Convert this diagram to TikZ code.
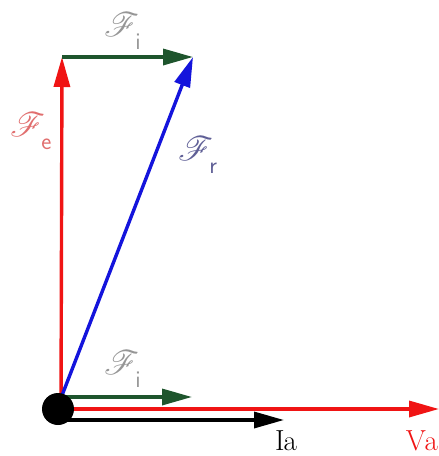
\documentclass[tikz,border=0pt]{standalone}
\usepackage{mathrsfs}
\usepackage{graphicx}
\usetikzlibrary{arrows.meta}
\definecolor{vred}{RGB}{240,20,20}
\definecolor{vgreen}{RGB}{30,85,45}
\definecolor{vblue}{RGB}{20,20,220}
\definecolor{lgray}{RGB}{150,150,150}
\definecolor{lred}{RGB}{225,110,110}
\definecolor{lblue}{RGB}{95,95,150}
\newcommand\flab[1]{\scalebox{3.4}{$\mathscr{F}$}\kern-4pt\raisebox{-13pt}{\fontsize{24}{24}\selectfont\sffamily #1}}
\tikzset{
  vec/.style={line width=3.4pt,-{Triangle[length=30pt,width=16pt]}},
  lbl/.style={inner sep=0pt,anchor=north west},
  tlbl/.style={inner sep=0pt,font=\fontsize{29}{31}\selectfont},
}
\begin{document}
\begin{tikzpicture}[x=1pt,y=-1pt]
\useasboundingbox (0,0) rectangle (439,456);
\fill[white] (0,0) rectangle (439,456);
\coordinate (O) at (61,398);
\coordinate (top) at (62,57);
\coordinate (tr) at (193,57);
\coordinate (gi) at (192,397);
\coordinate (va) at (439,409);
\coordinate (ia) at (284,420);
\draw[vec,vred] (61,409) -- (va);
\draw[vec,black] (61,420) -- (ia);
\draw[vec,vgreen] (61,397) -- (gi);
\draw[vec,vred] (61,409) -- (top);
\draw[vec,vgreen] (top) -- (tr);
\draw[vec,vblue] (O) -- (tr);
\fill[black] (58,409) circle (16);
\node[lbl,text=lgray] (fi1) at (104,12) {\flab{i}};
\node[lbl,text=lred] (fe) at (10,112) {\flab{e}};
\node[lbl,text=lblue] (fr) at (178,136) {\flab{r}};
\node[lbl,text=lgray] (fi2) at (104,350) {\flab{i}};
\node[tlbl,anchor=base west,text=black] (ial) at (275,450) {I\kern-1pt a};
\node[tlbl,anchor=base east,text=vred] (val) at (438,450) {V\kern-1.5pt a};
\end{tikzpicture}
\end{document}
